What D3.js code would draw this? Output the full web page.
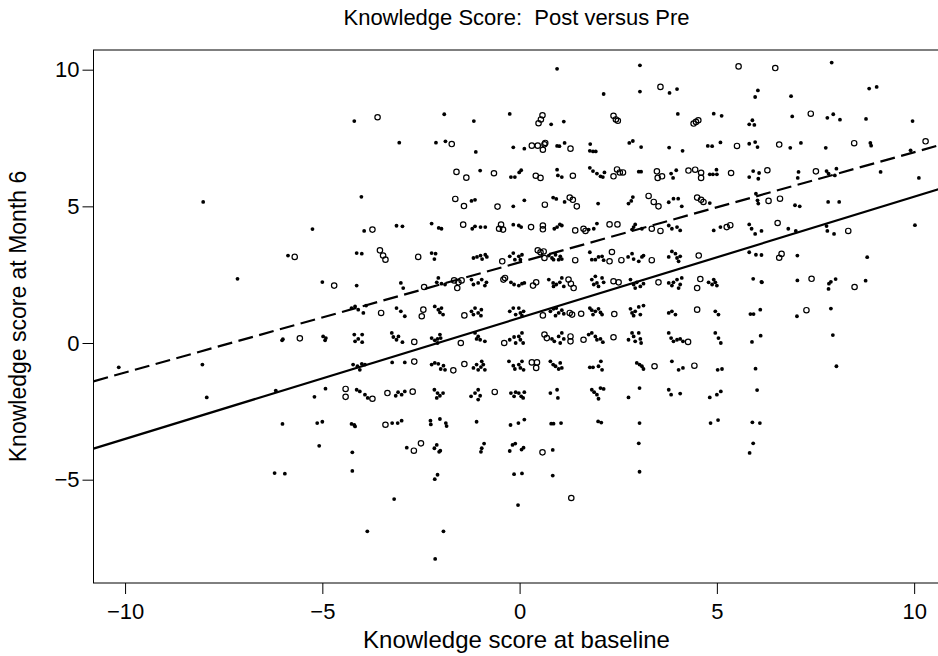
<!DOCTYPE html>
<html>
<head>
<meta charset="utf-8">
<script src="https://cdn.jsdelivr.net/npm/d3@7"></script>
<style>
  body { margin: 0; background: #fff; }
  svg text { font-family: "Liberation Sans", Arial, Helvetica, sans-serif; fill: #000; white-space: pre; }
  .axis line { stroke: #000; }
  .axis text { font-size: 22px; }
</style>
</head>
<body>
<svg id="chart" width="938" height="656"></svg>
<script>

// tick labels
var xTicks = [-10, -5, 0, 5, 10];
var yTicks = [-5, 0, 5, 10];

// filled dots: [baseline, month 6]
var dotsFilled = [
  [-8.02,5.16],[-5.87,3.2],[-7.15,2.35],[-6.02,0.10],[-6.0,0.14],[-10.16,-0.89],[-8.04,-0.79],[-7.93,-1.99],[-6.18,-1.74],
  [-6.01,-2.96],[-6.21,-4.76],[-5.95,-4.78],
  [-4.19,8.12],[-1.91,8.37],[-1.16,8.12],[-0.25,8.38],[-3.05,7.33],[-2.12,7.33],[-1.88,7.38],[-1.11,6.99],[-0.16,7.16],
  [-1.0,6.31],[-0.22,6.07],[-0.12,6.07],[-4.01,5.35],[-1.22,5.20],[-1.13,5.24],[-0.16,5.0],[-5.25,4.17],[-3.94,4.10],
  [-3.12,4.29],[-2.97,4.27],[-2.23,4.37],[-2.05,4.21],[-1.98,4.18],[-1.20,4.18],[-1.13,4.27],[-0.99,4.24],[-0.87,4.24],[-0.16,4.33],
  [0.95,10.03],[3.05,10.16],[3.80,9.15],[3.99,9.29],[2.13,9.11],[3.05,9.20],[0.80,8.0],[1.12,8.10],[4.01,8.38],[4.92,8.39],[5.12,8.31],
  [0.12,7.11],[0.95,7.21],[1.01,7.20],[1.14,7.32],[1.79,7.28],[1.78,7.03],[1.86,7.01],[1.93,7.01],[2.78,7.32],[2.87,7.39],[3.08,7.17],
  [3.79,7.15],[4.13,7.03],[4.77,7.21],[4.88,7.20],[5.09,7.34],[-0.01,6.24],[0.04,6.32],[0.95,6.34],[0.97,6.13],[1.07,6.07],
  [1.78,6.41],[1.86,6.29],[1.96,6.2],[2.05,6.1],[2.11,6.07],[2.15,6.24],[3.02,6.27],[3.08,6.27],[3.84,6.2],[3.89,6.04],[3.97,6.32],
  [4.82,6.17],[4.90,6.17],[4.99,6.34],[5.0,6.17],[0.12,5.22],[0.85,5.32],[0.93,5.27],[1.14,5.16],[1.99,5.10],[2.76,5.10],[2.83,5.2],
  [2.87,5.34],[3.78,5.15],[3.90,5.28],[4.02,5.28],[4.11,5.0],[4.82,5.12],
  [-0.02,4.3],[0.04,4.24],[0.88,4.18],[0.95,4.24],[1.02,4.34],[1.07,4.3],[1.75,4.15],[1.88,4.18],[1.96,4.37],[2.85,4.15],[2.89,4.24],
  [2.93,4.34],[3.10,4.18],[3.78,4.3],[3.86,4.18],[3.99,4.24],[4.07,4.12],[4.92,4.12],[5.09,4.24],
  [7.91,10.26],[8.86,9.31],[9.05,9.37],[6.04,9.24],[5.97,9.0],[6.88,9.03],[6.91,8.29],[7.80,8.24],[7.95,8.37],[8.12,8.17],[8.78,8.20],
  [9.96,8.12],[5.82,8.0],[5.90,8.15],[5.95,7.98],[5.82,7.29],[5.97,7.35],[6.03,7.17],[6.86,7.14],[7.13,7.32],[7.76,7.14],[8.89,7.32],
  [8.91,7.22],[9.91,7.05],[5.82,6.07],[5.92,6.29],[6.05,6.01],[6.07,6.22],[7.07,6.26],[7.05,6.04],[7.78,6.29],[7.83,6.2],[7.99,6.13],
  [8.03,6.38],[9.15,6.26],[10.12,6.04],[5.99,5.46],[6.03,5.22],[6.05,5.1],[6.98,5.04],[7.10,5.0],[7.82,5.16],[8.10,5.16],[5.82,4.34],
  [5.88,4.18],[6.13,4.10],[6.81,4.18],[7.0,4.10],[7.78,4.28],[7.80,4.10],[10.02,4.31],
  [5.97,3.99],[7.97,3.99],[5.82,3.32],[5.99,3.23],[6.13,3.22],[7.04,3.2],[8.81,3.14],[5.92,2.35],[6.13,2.24],[6.14,2.22],[7.04,2.29],
  [7.83,1.98],[7.84,2.17],[7.89,2.24],[8.01,2.34],[8.77,2.28],[5.85,1.06],[5.93,1.06],[6.10,1.22],[7.03,0.98],[7.89,1.26],[5.89,0.04],
  [6.11,0.27],[7.94,0.29],[5.98,-0.94],[8.03,-0.85],[6.02,-1.72],
  [5.90,-2.90],[6.09,-2.93],[5.92,-3.67],[5.83,-4.02],
  [-0.03,-2.93],[0.12,-2.80],[0.80,-2.95],[0.86,-2.95],[1.05,-2.93],[1.99,-2.87],[2.07,-2.91],[3.04,-2.93],[4.84,-2.93],[5.03,-2.82],
  [0.05,-3.90],[0.10,-3.83],[0.84,-3.91],[3.02,-3.67],[0.06,-4.77],[0.84,-4.85],[3.04,-4.71],[-0.04,-5.93],
  [-5.13,-2.93],[-5.0,-2.88],[-4.26,-2.96],[-4.19,-3.0],[-4.17,-3.05],[-3.23,-2.93],[-3.09,-2.93],[-2.99,-2.84],[-2.26,-2.84],
  [-2.25,-2.98],[-2.02,-2.78],[-1.87,-2.93],[-1.85,-3.04],[-1.09,-2.88],[-0.23,-3.0],[-5.08,-3.76],[-4.24,-4.0],[-2.86,-3.83],
  [-2.16,-3.85],[-2.10,-3.73],[-2.04,-3.98],[-2.01,-3.94],[-0.98,-3.98],[-0.96,-3.85],[-0.90,-3.68],[-0.25,-3.95],[-0.18,-3.73],
  [-0.11,-3.68],[-4.24,-4.68],[-2.15,-4.98],[-2.08,-4.82],[-0.14,-4.80],[-3.18,-5.71],[-3.86,-6.89],[-1.93,-6.89],[-2.14,-7.90],
  [-4.13,3.29],[-4.0,3.27],[-2.23,3.29],[-2.16,3.07],[-2.13,3.27],[-1.17,3.11],[-1.08,3.15],[-0.99,3.2],[-0.87,3.23],[-0.83,3.15],
  [-0.95,3.07],[-0.25,3.17],[-0.16,3.29],[-0.12,3.05],
  [-5.0,2.23],[-4.13,2.10],[-3.01,2.2],[-2.95,2.01],[-2.1,2.22],[-2.06,2.38],[-1.98,2.17],[-1.89,2.14],[-1.22,2.32],[-1.17,2.14],
  [-1.05,2.2],[-0.96,2.32],[-0.88,2.1],[-0.84,2.22],[-0.22,2.22],[-0.14,2.14],
  [-4.26,1.28],[-4.17,1.34],[-4.09,1.22],[-3.96,1.1],[-3.89,1.37],[-3.12,1.28],[-3.01,1.16],[-2.91,0.98],[-2.15,1.34],[-2.06,1.22],
  [-2.02,1.12],[-1.94,1.04],[-1.98,1.28],[-1.22,1.16],[-1.13,1.28],[-1.05,1.1],[-0.97,1.22],[-0.98,1.0],[-1.17,1.04],[-0.25,1.16],
  [-0.16,1.28],[-0.1,1.04],
  [-4.98,0.24],[-4.93,0.10],[-4.91,0.18],[-4.19,0.31],[-4.09,0.15],[-3.99,0.03],[-4.17,0.06],[-3.99,0.31],[-3.24,0.37],[-3.2,0.22],
  [-3.12,0.12],[-2.97,0.03],[-3.07,0.24],[-2.23,0.18],[-2.15,0.10],[-2.08,0.15],[-2.02,0.31],[-2.08,0.0],[-2.0,0.18],[-1.13,0.37],
  [-1.05,0.24],[-1.0,0.12],[-0.88,0.06],[-1.09,0.15],[-0.25,0.12],[-0.14,0.22],[-0.10,0.0],
  [-4.22,-0.79],[-4.11,-0.85],[-4.0,-0.76],[-4.05,-0.98],[-3.92,-0.79],[-3.23,-0.71],[-2.91,-0.71],[-2.23,-0.79],[-2.15,-0.73],
  [-2.06,-0.76],[-2.0,-0.95],[-1.93,-0.83],[-1.89,-0.98],[-1.17,-0.91],[-1.09,-0.79],[-1.05,-0.98],[-0.98,-0.88],[-0.92,-0.79],
  [-0.88,-0.98],[-0.96,-0.67],[-0.27,-0.67],[-0.16,-0.83],[-0.12,-0.95],
  [-5.2,-1.97],[-4.92,-1.67],[-4.13,-1.71],[-4.05,-1.77],[-3.92,-1.89],[-3.85,-2.01],[-3.14,-1.93],[-3.08,-1.80],[-2.99,-1.89],
  [-2.91,-1.77],[-2.16,-1.71],[-2.08,-1.83],[-2.02,-1.93],[-1.94,-1.83],[-2.10,-2.01],[-1.23,-1.95],[-1.13,-1.83],[-1.05,-1.71],
  [-1.0,-1.93],[-1.05,-2.07],[-0.22,-1.83],[-0.14,-1.95],[-0.1,-1.8],
  [-0.02,3.17],[0.02,3.05],[0.06,3.23],[0.74,3.2],[0.82,3.11],[0.91,3.23],[0.99,3.05],[1.03,3.17],[0.86,3.05],[1.07,3.07],[1.78,3.32],
  [1.83,3.05],[1.92,3.05],[2.0,3.15],[2.09,3.17],[2.13,3.03],[2.75,3.15],[2.85,3.27],[2.89,3.07],[3.02,2.99],[3.10,3.15],[3.14,3.2],
  [3.78,3.15],[3.86,3.35],[3.95,3.27],[3.99,3.11],[4.03,2.99],[4.07,3.17],
  [-0.02,2.1],[0.06,2.17],[0.12,2.2],[0.74,2.32],[0.85,2.2],[0.93,2.14],[1.02,2.22],[1.12,2.07],[1.07,2.38],[0.86,2.07],[1.83,2.32],
  [1.88,2.14],[1.96,2.2],[2.0,2.07],[2.09,2.38],[2.13,2.22],[1.92,2.44],[2.81,2.32],[2.89,2.14],[2.97,2.22],[3.06,2.07],[3.14,2.17],
  [2.93,2.01],[3.78,2.2],[3.86,2.1],[3.99,2.32],[4.07,2.14],[4.11,2.38],[4.03,2.01],[3.90,2.22],[4.79,2.22],[4.88,2.14],[4.96,2.22],
  [5.0,2.1],[4.92,2.32],
  [-0.02,1.28],[0.02,1.1],[0.1,1.16],[0.06,1.0],[0.78,1.16],[0.86,1.25],[0.93,1.28],[0.99,1.1],[1.07,1.2],[1.12,1.07],[0.91,1.0],
  [1.78,1.28],[1.83,1.2],[1.92,1.16],[2.0,1.25],[2.05,1.12],[2.09,1.04],[1.86,1.04],[2.81,1.25],[2.85,1.1],[2.93,1.16],[3.02,1.32],
  [3.06,1.04],[3.14,1.37],[2.89,1.0],[3.78,1.1],[3.86,1.16],[3.95,1.04],[4.96,1.16],[5.04,1.04],
  [-0.02,0.24],[0.02,0.12],[0.06,0.37],[0.09,0.0],[0.82,0.15],[0.88,0.06],[0.99,0.24],[1.07,0.37],[1.03,0.0],[1.12,0.15],[1.75,0.31],
  [1.83,0.37],[1.92,0.24],[1.96,0.12],[2.05,0.15],[2.11,0.03],[2.76,0.12],[2.85,0.37],[2.89,0.24],[2.93,0.06],[3.02,0.37],[3.06,0.15],
  [3.08,0.0],[3.78,0.37],[3.84,0.18],[3.90,0.06],[3.99,0.12],[4.07,0.15],[4.14,0.06],[4.96,0.37],[5.04,0.18],[5.1,0.0],
  [-0.02,-0.79],[0.02,-0.91],[0.06,-0.67],[0.1,-0.98],[0.78,-0.67],[0.85,-0.79],[0.91,-0.85],[0.99,-0.95],[1.07,-0.91],[1.03,-0.73],
  [1.78,-0.89],[1.86,-0.89],[2.0,-0.85],[2.06,-0.67],[2.09,-0.98],[2.97,-0.73],[3.04,-0.79],[3.1,-0.85],[3.14,-0.95],[3.86,-0.67],
  [4.03,-0.98],[4.14,-0.91],[5.02,-0.98],[5.13,-0.95],
  [-0.02,-1.83],[0.04,-1.95],[0.12,-1.8],[0.09,-2.01],[0.78,-1.83],[0.95,-1.71],[0.97,-2.01],[1.83,-1.71],[1.89,-1.80],[1.96,-1.89],
  [2.05,-1.65],[2.13,-1.68],[2.0,-2.04],[2.76,-1.99],[3.04,-1.65],[3.78,-1.71],[3.84,-1.89],[4.07,-1.85],[4.82,-1.99],[5.0,-1.89],[5.1,-1.77]
];

// open circles: [baseline, month 6]
var dotsOpen = [
  [-5.70,3.15],[-5.57,0.17],
  [-3.60,8.26],[-1.72,7.28],[-1.60,6.26],[-1.35,6.05],[-0.65,6.21],[-1.63,5.27],[-1.41,5.01],[-0.56,4.99],[-3.73,4.15],[-1.43,4.33],
  [-0.47,4.33],[-0.52,4.18],[-0.42,4.15],
  [3.57,9.37],[0.58,8.33],[0.54,8.18],[0.48,8.04],[2.38,8.31],[2.44,8.18],[2.49,8.13],[4.41,8.03],[4.47,8.09],[4.53,8.15],[0.31,7.22],
  [0.46,7.22],[0.59,7.07],[0.63,7.27],[0.65,7.32],[1.29,7.11],[0.41,6.12],[0.53,6.04],[1.35,6.12],[2.38,6.10],[2.47,6.35],[2.54,6.24],
  [2.62,6.24],[3.48,6.28],[3.50,6.04],[3.61,6.10],[4.28,6.31],[4.45,6.34],[4.60,6.23],[4.60,6.04],[0.64,5.06],[1.27,5.32],[1.35,5.24],
  [1.45,5.0],[3.27,5.38],[3.40,5.16],[3.52,5.0],[4.50,5.32],[4.60,5.24],[4.66,5.16],
  [0.29,4.24],[0.59,4.3],[0.59,4.16],[1.41,4.12],[1.62,4.18],[1.67,4.1],[2.28,4.34],[2.48,4.34],[3.35,4.18],[3.57,4.1],[5.25,4.24],
  [5.55,10.12],[6.48,10.06],[7.38,8.39],[5.51,7.21],[6.58,7.26],[8.48,7.31],[10.29,7.38],[5.36,6.22],[6.28,6.32],[7.51,6.28],
  [6.31,5.2],[6.60,5.28],[5.34,4.31],[6.54,4.39],[8.33,4.10],
  [6.58,3.12],[6.64,3.26],[7.40,2.35],[8.49,2.05],[7.27,1.20],
  [0.58,-4.0],[1.31,-5.67],[-3.40,-2.99],[-2.68,-3.94],[-2.50,-3.67],
  [-3.54,3.39],[-3.46,3.20],[-3.40,3.05],[-2.57,3.15],[-0.44,2.99],[-4.70,2.10],[-2.42,2.05],[-1.66,2.29],[-1.55,2.22],[-1.58,2.01],
  [-1.47,2.29],[-0.41,2.32],[-0.37,2.38],[-3.51,1.10],[-2.44,1.22],[-2.48,0.98],[-1.40,1.01],[-2.67,0.04],[-1.49,0.0],[-0.39,0.0],
  [-2.67,-0.68],[-1.68,-1.0],[-1.40,-0.77],[-4.41,-1.68],[-4.41,-1.97],[-3.73,-2.04],[-3.35,-1.83],[-2.71,-1.78],[-0.63,-1.79],
  [0.46,3.39],[0.53,3.32],[0.61,3.35],[0.63,3.11],[1.41,3.03],[2.28,2.99],[2.34,3.33],[2.58,3.03],[3.35,3.03],[4.54,3.2],[0.34,2.1],
  [0.42,2.22],[1.24,2.32],[1.30,2.17],[1.37,2.01],[2.38,2.26],[2.51,2.22],[3.52,2.22],[4.58,2.34],[4.50,2.01],[0.59,1.01],[1.27,1.10],
  [1.33,1.04],[1.56,1.07],[2.40,1.06],[4.50,1.22],[0.63,0.31],[0.69,0.18],[1.29,0.24],[1.29,0.06],[1.62,0.12],[2.38,0.21],[4.27,0.04],
  [0.31,-0.71],[0.44,-0.71],[0.42,-0.91],[3.42,-0.85],[4.43,-0.83]
];

// fitted lines: intercept, slope
var fitSolid = [0.92, 0.443];
var fitDashed = [2.95, 0.403];

var settings = {
  width: 938, height: 656,
  left: 93.5, top: 50, right: 939.5, bottom: 583
};

var svg = d3.select('#chart');

var scaleX = d3.scaleLinear()
  .domain([ -10.8, 10.63 ])
  .range([ settings.left, settings.right - 0.5 ]);

var scaleY = d3.scaleLinear()
  .domain([ -8.78, 10.72 ])
  .range([ settings.bottom, settings.top ]);

svg.append('defs').append('clipPath')
  .attr('id', 'plot-clip')
  .append('rect')
  .attr('x', settings.left)
  .attr('y', settings.top)
  .attr('width', settings.right - settings.left)
  .attr('height', settings.bottom - settings.top);

// axes
var axisX = d3.axisBottom(scaleX).tickValues(xTicks).tickSize(11).tickPadding(9);
var axisY = d3.axisLeft(scaleY).tickValues(yTicks).tickSize(11).tickPadding(3);

var groupX = svg.append('g')
  .classed('axis', true)
  .attr('transform', 'translate(0,' + settings.bottom + ')')
  .call(axisX);
groupX.select('.domain').remove();

var groupY = svg.append('g')
  .classed('axis', true)
  .attr('transform', 'translate(' + settings.left + ',0)')
  .call(axisY);
groupY.select('.domain').remove();

// plot box
svg.append('rect')
  .attr('x', settings.left)
  .attr('y', settings.top)
  .attr('width', settings.right - settings.left)
  .attr('height', settings.bottom - settings.top)
  .attr('fill', 'none')
  .attr('stroke', '#000')
  .attr('stroke-width', 1);

var plot = svg.append('g').attr('clip-path', 'url(#plot-clip)');

plot.selectAll('circle.filled')
  .data(dotsFilled)
  .enter()
  .append('circle')
  .classed('filled', true)
  .attr('cx', function(d) { return scaleX(d[0]); })
  .attr('cy', function(d) { return scaleY(d[1]); })
  .attr('r', 1.9)
  .attr('fill', '#000');

plot.selectAll('circle.open')
  .data(dotsOpen)
  .enter()
  .append('circle')
  .classed('open', true)
  .attr('cx', function(d) { return scaleX(d[0]); })
  .attr('cy', function(d) { return scaleY(d[1]); })
  .attr('r', 2.7)
  .attr('fill', 'none')
  .attr('stroke', '#000')
  .attr('stroke-width', 1.2);

// regression lines across the whole x range
function fitLine(fit) {
  var xs = scaleX.domain();
  return xs.map(function(x) { return [ x, fit[0] + fit[1] * x ]; });
}

var line = d3.line()
  .x(function(d) { return scaleX(d[0]); })
  .y(function(d) { return scaleY(d[1]); });

plot.append('path')
  .attr('d', line(fitLine(fitSolid)))
  .attr('fill', 'none')
  .attr('stroke', '#000')
  .attr('stroke-width', 2.2);

plot.append('path')
  .attr('d', line(fitLine(fitDashed)))
  .attr('fill', 'none')
  .attr('stroke', '#000')
  .attr('stroke-width', 2.2)
  .attr('stroke-dasharray', '15,6.5');

// titles
svg.append('text')
  .attr('x', (settings.left + settings.right) / 2)
  .attr('y', 25)
  .attr('text-anchor', 'middle')
  .style('font-size', '22px')
  .text('Knowledge Score:  Post versus Pre');

svg.append('text')
  .attr('x', (settings.left + settings.right) / 2)
  .attr('y', 648)
  .attr('text-anchor', 'middle')
  .style('font-size', '24px')
  .text('Knowledge score at baseline');

svg.append('text')
  .attr('transform', 'translate(26,' + (settings.top + settings.bottom) / 2 + ') rotate(-90)')
  .attr('text-anchor', 'middle')
  .style('font-size', '23px')
  .text('Knowledge score at Month 6');

</script>
</body>
</html>
